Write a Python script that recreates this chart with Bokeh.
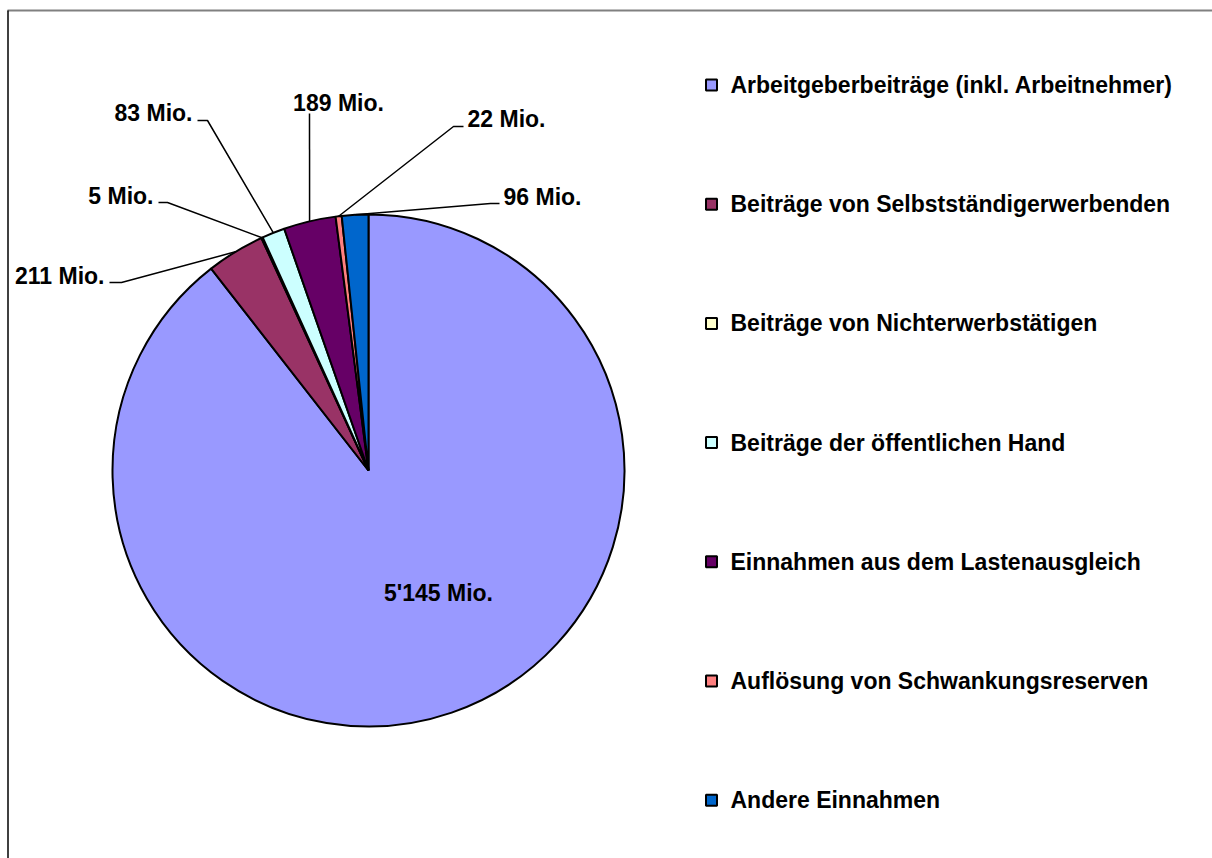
import numpy as np
from bokeh.plotting import figure
from bokeh.models import Range1d
from bokeh.core.properties import value
from bokeh.embed import file_html
from bokeh.resources import INLINE

# ---- data ----
categories = [
    "Arbeitgeberbeiträge (inkl. Arbeitnehmer)",
    "Beiträge von Selbstständigerwerbenden",
    "Beiträge von Nichterwerbstätigen",
    "Beiträge der öffentlichen Hand",
    "Einnahmen aus dem Lastenausgleich",
    "Auflösung von Schwankungsreserven",
    "Andere Einnahmen",
]
values = [5145, 211, 5, 83, 189, 22, 96]
value_labels = ["5'145 Mio.", "211 Mio.", "5 Mio.", "83 Mio.", "189 Mio.", "22 Mio.", "96 Mio."]
colors = ["#9999FF", "#993366", "#FFFFCC", "#CCFFFF", "#660066", "#FF8080", "#0066CC"]

# ---- layout (page pixel coordinates) ----
W, H = 1212, 858
OFF = 0  # page offset of canvas
CX, CY, R = 368, 470, 256
FONT = value("Liberation Sans")
FS = "23px"

def dx(px):
    return px - OFF

def dy(py):
    return H - (py - OFF)

p = figure(width=W, height=H, x_range=Range1d(0, W), y_range=Range1d(0, H),
           output_backend="svg", toolbar_location=None, min_border=0)
p.axis.visible = False
p.grid.visible = False
p.outline_line_color = None
p.background_fill_color = "white"

# frame (top and left edges visible)
p.segment(x0=[dx(7), dx(7.5)], y0=[dy(10), dy(10)], x1=[dx(W + 10), dx(7.5)], y1=[dy(10), dy(H + 10)],
          line_color=["#808080", "black"], line_width=[2, 1.5])

# ---- pie ----
vals = np.array(values, dtype=float)
total = vals.sum()
cum = np.concatenate([[0], np.cumsum(vals)])
start = np.pi / 2 - 2 * np.pi * cum[:-1] / total
end = np.pi / 2 - 2 * np.pi * cum[1:] / total
mid = (start + end) / 2

p.wedge(x=dx(CX), y=dy(CY), radius=R, start_angle=start, end_angle=end,
        direction="clock", fill_color=colors, line_color="black", line_width=2)

# big slice label (inside)
inside_pos = (438, 592)
p.text(x=[dx(inside_pos[0])], y=[dy(inside_pos[1])], text=[value_labels[0]],
       text_font=FONT, text_font_style="bold", text_font_size=FS,
       text_align="center", text_baseline="middle")

# outside labels with leader lines: (text x, text y, align, elbow start x, elbow end x, elbow y)
label_layout = {
    1: (104, 275, "right", 109, 121, 282),
    2: (153, 195, "right", 158, 167, 202),
    3: (192, 112, "right", 197, 207, 120),
    4: (338, 102, "center", None, 309, 113),
    5: (467, 118, "left", 463, 453, 126),
    6: (503, 196, "left", 499, 490, 203),
}
for i, (tx, ty, align, ex0, ex1, ey) in label_layout.items():
    edge_x = CX + R * np.cos(mid[i])
    edge_y = CY - R * np.sin(mid[i])
    xs = ([ex0] if ex0 is not None else []) + [ex1, edge_x]
    ys = ([ey] if ex0 is not None else []) + [ey, edge_y]
    p.line(x=[dx(v) for v in xs], y=[dy(v) for v in ys], line_color="black", line_width=1.5)
    p.text(x=[dx(tx)], y=[dy(ty)], text=[value_labels[i]],
           text_font=FONT, text_font_style="bold", text_font_size=FS,
           text_align=align, text_baseline="middle")

# ---- legend ----
LX_BOX, LX_TEXT, LY0, LSTEP, BOX = 711, 730, 84.5, 119.2, 11
ly = [LY0 + k * LSTEP for k in range(len(categories))]
p.rect(x=[dx(LX_BOX)] * len(categories), y=[dy(v) for v in ly], width=BOX, height=BOX,
       fill_color=colors, line_color="black", line_width=2)
p.text(x=[dx(LX_TEXT)] * len(categories), y=[dy(v) for v in ly], text=categories,
       text_font=FONT, text_font_style="bold", text_font_size=FS,
       text_align="left", text_baseline="middle")

open("out.html", "w").write(file_html(p, INLINE))
